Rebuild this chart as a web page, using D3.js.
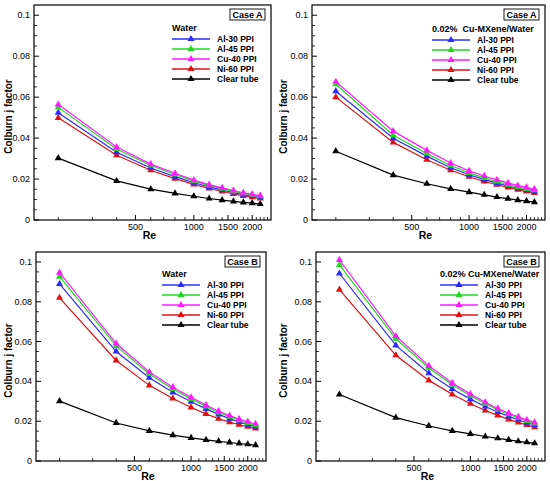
<!DOCTYPE html>
<html>
<head>
<meta charset="utf-8">
<script src="https://cdn.jsdelivr.net/npm/d3@7"></script>
<style>
  body { margin: 0; background: #fff; }
  text { font-family: "Liberation Sans", Arial, sans-serif; white-space: pre; }
</style>
</head>
<body>
<script>
// Reynolds numbers shared by every curve
var reValues = [200, 400, 600, 800, 1000, 1200, 1400, 1600, 1800, 2000, 2200];

var seriesNames = ['Al-30 PPI', 'Al-45 PPI', 'Cu-40 PPI', 'Ni-60 PPI', 'Clear tube'];
var seriesColors = ['#2b2bff', '#1ed81e', '#ff1aff', '#e01010', '#000000'];

var xMajorTicks = [500, 1000, 1500, 2000];
var xMinorTicks = [200, 300, 400, 600, 700, 800, 900, 1100, 1200, 1300, 1400, 1600, 1700, 1800, 1900, 2100, 2200, 2300, 2400];
var yMajorTicks = [0, 0.02, 0.04, 0.06, 0.08, 0.1];
var yMinorTicks = [0.005, 0.01, 0.015, 0.025, 0.03, 0.035, 0.045, 0.05, 0.055, 0.065, 0.07, 0.075, 0.085, 0.09, 0.095];

// Case A, water
var aWaterAl30 = [0.0524, 0.0331, 0.0254, 0.0212, 0.0182, 0.0162, 0.0146, 0.0134, 0.0124, 0.0117, 0.0111];
var aWaterAl45 = [0.0550, 0.0347, 0.0266, 0.0222, 0.0190, 0.0169, 0.0153, 0.0140, 0.0130, 0.0122, 0.0116];
var aWaterCu40 = [0.0564, 0.0356, 0.0273, 0.0228, 0.0195, 0.0173, 0.0157, 0.0144, 0.0133, 0.0125, 0.0119];
var aWaterNi60 = [0.0499, 0.0316, 0.0243, 0.0202, 0.0174, 0.0154, 0.0139, 0.0127, 0.0118, 0.0111, 0.0105];
var aWaterClear = [0.0302, 0.0191, 0.0151, 0.0130, 0.0116, 0.0105, 0.0097, 0.0091, 0.0086, 0.0082, 0.0078];

// Case A, 0.02% Cu-MXene/water
var aNanoAl30 = [0.0629, 0.0399, 0.0312, 0.0255, 0.0221, 0.0197, 0.0180, 0.0166, 0.0155, 0.0146, 0.0139];
var aNanoAl45 = [0.0663, 0.0414, 0.0325, 0.0266, 0.0230, 0.0206, 0.0188, 0.0173, 0.0161, 0.0152, 0.0145];
var aNanoCu40 = [0.0675, 0.0434, 0.0340, 0.0278, 0.0240, 0.0215, 0.0196, 0.0181, 0.0168, 0.0159, 0.0151];
var aNanoNi60 = [0.0600, 0.0379, 0.0294, 0.0243, 0.0211, 0.0188, 0.0172, 0.0159, 0.0148, 0.0139, 0.0132];
var aNanoClear = [0.0336, 0.0219, 0.0177, 0.0152, 0.0136, 0.0123, 0.0112, 0.0104, 0.0097, 0.0092, 0.0087];

// Case B, water
var bWaterAl30 = [0.0890, 0.0550, 0.0418, 0.0345, 0.0298, 0.0262, 0.0234, 0.0213, 0.0196, 0.0183, 0.0173];
var bWaterAl45 = [0.0926, 0.0578, 0.0437, 0.0362, 0.0312, 0.0274, 0.0244, 0.0222, 0.0205, 0.0191, 0.0180];
var bWaterCu40 = [0.0946, 0.0590, 0.0447, 0.0371, 0.0320, 0.0281, 0.0250, 0.0228, 0.0211, 0.0197, 0.0186];
var bWaterNi60 = [0.0820, 0.0505, 0.0380, 0.0314, 0.0269, 0.0237, 0.0212, 0.0195, 0.0182, 0.0172, 0.0163];
var bWaterClear = [0.0301, 0.0191, 0.0151, 0.0130, 0.0116, 0.0106, 0.0099, 0.0093, 0.0088, 0.0084, 0.0080];

// Case B, 0.02% Cu-MXene/water
var bNanoAl30 = [0.0942, 0.0581, 0.0441, 0.0362, 0.0311, 0.0274, 0.0246, 0.0224, 0.0207, 0.0192, 0.0181];
var bNanoAl45 = [0.0985, 0.0614, 0.0467, 0.0383, 0.0328, 0.0288, 0.0258, 0.0235, 0.0217, 0.0201, 0.0189];
var bNanoCu40 = [0.1010, 0.0628, 0.0478, 0.0392, 0.0336, 0.0295, 0.0264, 0.0240, 0.0222, 0.0206, 0.0194];
var bNanoNi60 = [0.0861, 0.0531, 0.0405, 0.0335, 0.0288, 0.0254, 0.0229, 0.0209, 0.0194, 0.0181, 0.0170];
var bNanoClear = [0.0334, 0.0218, 0.0176, 0.0151, 0.0136, 0.0123, 0.0114, 0.0106, 0.0099, 0.0094, 0.0089];

// panel frames and legend anchors (pixels)
var panels = [
  { ox: 0,   left: 34,  right: 271, top: 5,   bottom: 220, fluid: 'Water', tag: 'Case A', legX: 172, legY: 28,
    series: [aWaterAl30, aWaterAl45, aWaterCu40, aWaterNi60, aWaterClear] },
  { ox: 275, left: 312, right: 545, top: 5,   bottom: 220, fluid: '0.02%  Cu-MXene/Water', tag: 'Case A', legX: 432, legY: 29,
    series: [aNanoAl30, aNanoAl45, aNanoCu40, aNanoNi60, aNanoClear] },
  { ox: 0,   left: 36,  right: 266, top: 252, bottom: 461, fluid: 'Water', tag: 'Case B', legX: 162, legY: 274,
    series: [bWaterAl30, bWaterAl45, bWaterCu40, bWaterNi60, bWaterClear] },
  { ox: 275, left: 316, right: 545, top: 252, bottom: 461, fluid: '0.02% Cu-MXene/Water', tag: 'Case B', legX: 440, legY: 274,
    series: [bNanoAl30, bNanoAl45, bNanoCu40, bNanoNi60, bNanoClear] }
];

var svg = d3.select('body').append('svg')
  .attr('width', 550)
  .attr('height', 481);

var triangle = d3.symbol().type(d3.symbolTriangle).size(22);

panels.forEach(function(p){
  var g = svg.append('g');

  var x = d3.scaleLog().domain([150, 2500]).range([p.left, p.right]);
  var y = d3.scaleLinear().domain([0, 0.105]).range([p.bottom, p.top]);

  // y ticks, pointing inward
  g.selectAll('.ymaj').data(yMajorTicks).enter().append('line')
    .attr('x1', p.left).attr('x2', p.left + 5)
    .attr('y1', function(d){ return y(d); }).attr('y2', function(d){ return y(d); })
    .attr('stroke', '#000').attr('stroke-width', 1);
  g.selectAll('.ymin').data(yMinorTicks).enter().append('line')
    .attr('x1', p.left).attr('x2', p.left + 3)
    .attr('y1', function(d){ return y(d); }).attr('y2', function(d){ return y(d); })
    .attr('stroke', '#000').attr('stroke-width', 0.8);
  g.selectAll('.ylab').data(yMajorTicks).enter().append('text')
    .attr('x', p.left - 4)
    .attr('y', function(d){ return y(d) + 3; })
    .attr('text-anchor', 'end')
    .attr('font-size', '9px')
    .text(function(d){ return d3.format('~g')(d); });

  // x ticks
  g.selectAll('.xmaj').data(xMajorTicks).enter().append('line')
    .attr('x1', function(d){ return x(d); }).attr('x2', function(d){ return x(d); })
    .attr('y1', p.bottom).attr('y2', p.bottom - 5)
    .attr('stroke', '#000').attr('stroke-width', 1);
  g.selectAll('.xmin').data(xMinorTicks).enter().append('line')
    .attr('x1', function(d){ return x(d); }).attr('x2', function(d){ return x(d); })
    .attr('y1', p.bottom).attr('y2', p.bottom - 3)
    .attr('stroke', '#000').attr('stroke-width', 0.8);
  g.selectAll('.xlab').data(xMajorTicks).enter().append('text')
    .attr('x', function(d){ return x(d); })
    .attr('y', p.bottom + 10)
    .attr('text-anchor', 'middle')
    .attr('font-size', '9px')
    .text(function(d){ return d; });

  // axis titles
  g.append('text')
    .attr('x', (p.left + p.right) / 2 - 3)
    .attr('y', p.bottom + 18.5)
    .attr('text-anchor', 'middle')
    .attr('font-size', '10.5px').attr('font-weight', 'bold')
    .text('Re');
  g.append('text')
    .attr('transform', 'translate(' + (p.ox + 12) + ',' + ((p.top + p.bottom) / 2 + 4) + ') rotate(-90)')
    .attr('text-anchor', 'middle')
    .attr('font-size', '10px').attr('font-weight', 'bold')
    .text('Colburn j factor');

  // curves, clear tube drawn first so the fins sit on top
  var line = d3.line()
    .x(function(d, i){ return x(reValues[i]); })
    .y(function(d){ return y(d); });

  [4, 3, 0, 1, 2].forEach(function(k){
    g.append('path')
      .attr('d', line(p.series[k]))
      .attr('fill', 'none')
      .attr('stroke', seriesColors[k])
      .attr('stroke-width', 1.2);
    g.selectAll('.m' + k).data(p.series[k]).enter().append('path')
      .attr('d', triangle)
      .attr('transform', function(d, i){ return 'translate(' + x(reValues[i]) + ',' + y(d) + ')'; })
      .attr('fill', seriesColors[k]);
  });

  // frame
  g.append('rect')
    .attr('x', p.left).attr('y', p.top)
    .attr('width', p.right - p.left).attr('height', p.bottom - p.top)
    .attr('fill', 'none').attr('stroke', '#000').attr('stroke-width', 1.2);

  // case tag box
  var bw = 35, bh = 11;
  g.append('rect')
    .attr('x', p.right - 6 - bw).attr('y', p.top + 4)
    .attr('width', bw).attr('height', bh)
    .attr('fill', '#fff').attr('stroke', '#000').attr('stroke-width', 0.9);
  g.append('text')
    .attr('x', p.right - 6 - bw / 2).attr('y', p.top + 13)
    .attr('text-anchor', 'middle')
    .attr('font-size', '9px').attr('font-weight', 'bold')
    .text(p.tag);

  // legend
  g.append('text')
    .attr('x', p.legX).attr('y', p.legY + 3)
    .attr('font-size', '9px').attr('font-weight', 'bold')
    .text(p.fluid);
  seriesNames.forEach(function(name, k){
    var ry = p.legY + 11 + k * 10;
    g.append('line')
      .attr('x1', p.legX).attr('x2', p.legX + 38)
      .attr('y1', ry).attr('y2', ry)
      .attr('stroke', seriesColors[k]).attr('stroke-width', 1.3);
    g.append('path')
      .attr('d', triangle)
      .attr('transform', 'translate(' + (p.legX + 19) + ',' + ry + ')')
      .attr('fill', seriesColors[k]);
    g.append('text')
      .attr('x', p.legX + 45).attr('y', ry + 3)
      .attr('font-size', '8.5px').attr('font-weight', 'bold')
      .text(name);
  });
});
</script>
</body>
</html>
